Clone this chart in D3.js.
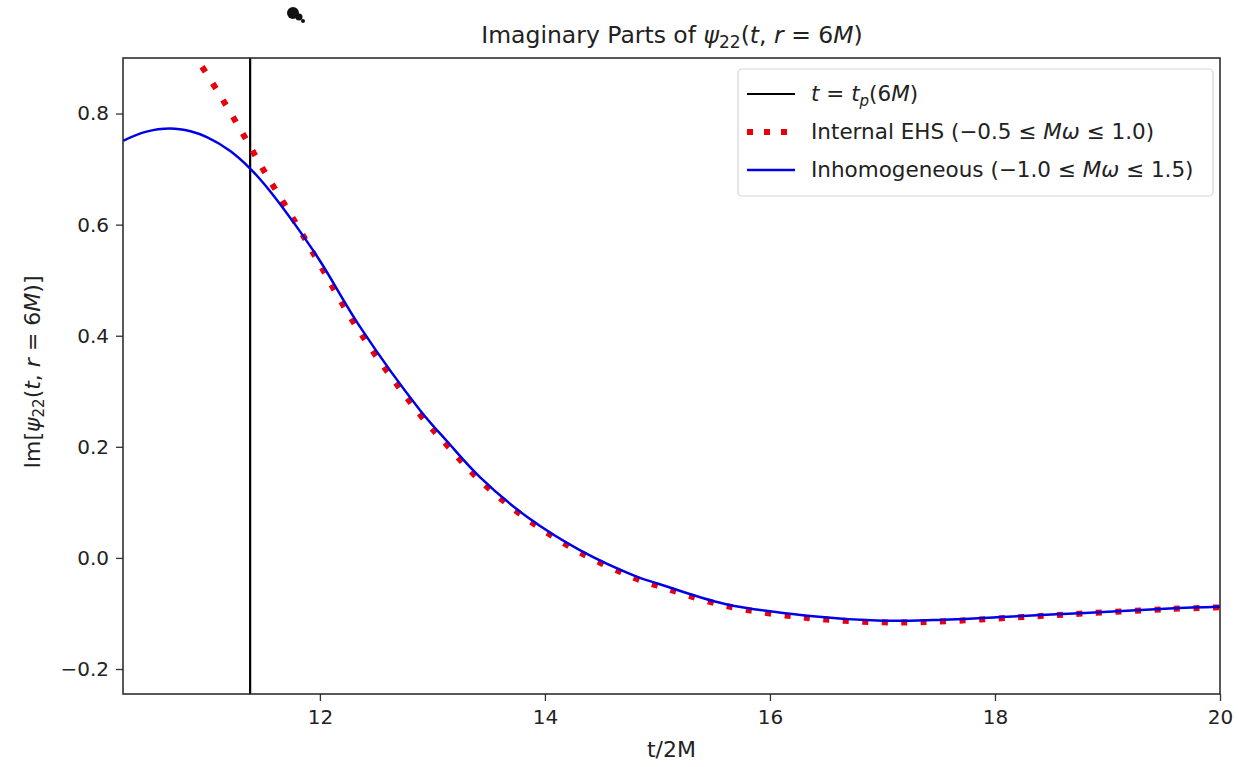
<!DOCTYPE html>
<html>
<head>
<meta charset="utf-8">
<script src="https://cdn.jsdelivr.net/npm/d3@7"></script>
<style>
  body { margin: 0; background: #fff; }
  text { font-family: "DejaVu Sans", sans-serif; fill: #222; }
</style>
</head>
<body>
<div id="chart"></div>
<script>
// reading of the curves off the reference picture
var tPeak = 11.38;

var inhomT = [10.25, 10.45, 10.67, 10.85, 11.0, 11.2, 11.38, 11.55, 11.78, 12.0, 12.36, 12.89, 13.13, 13.42, 13.84, 14.31, 14.82, 15.0, 15.6, 16.33, 17.0, 17.45, 18.2, 18.8, 19.55, 20.0];
var inhomV = [0.751, 0.767, 0.773, 0.768, 0.757, 0.733, 0.701, 0.662, 0.600, 0.535, 0.415, 0.266, 0.210, 0.146, 0.074, 0.014, -0.034, -0.046, -0.083, -0.104, -0.113, -0.112, -0.105, -0.099, -0.091, -0.088];

var ehsT = [10.85, 10.93, 11.13, 11.32, 11.50, 11.70, 11.88, 12.0, 12.36, 12.89, 13.13, 13.42, 13.84, 14.31, 14.82, 15.0, 15.6, 16.33, 17.0, 17.45, 18.2, 18.8, 19.55, 20.0];
var ehsV = [0.912, 0.891, 0.827, 0.762, 0.698, 0.632, 0.570, 0.528, 0.405, 0.258, 0.203, 0.140, 0.070, 0.010, -0.038, -0.050, -0.086, -0.108, -0.116, -0.115, -0.107, -0.100, -0.092, -0.089];

var xTicks = [12, 14, 16, 18, 20];
var yTicks = [-0.2, 0.0, 0.2, 0.4, 0.6, 0.8];

var svgWidth = 1239;
var svgHeight = 767;
var margin = { top: 58, right: 19, bottom: 73, left: 123 };
var width = svgWidth - margin.left - margin.right;
var height = svgHeight - margin.top - margin.bottom;

var svg = d3.select("#chart")
  .append("svg")
  .attr("width", svgWidth)
  .attr("height", svgHeight);

var chartGroup = svg.append("g")
  .attr("transform", `translate(${margin.left}, ${margin.top})`);

var x = d3.scaleLinear().domain([10.25, 20]).range([0, width]);
var y = d3.scaleLinear().domain([-0.245, 0.9]).range([height, 0]);

svg.append("defs").append("clipPath").attr("id", "clip")
  .append("rect").attr("width", width).attr("height", height);

// axes
var bottomAxis = d3.axisBottom(x).tickValues(xTicks).tickSize(7).tickPadding(9)
  .tickFormat(d3.format("d"));
var leftAxis = d3.axisLeft(y).tickValues(yTicks).tickSize(7).tickPadding(7)
  .tickFormat(d => d < 0 ? "\u2212" + d3.format(".1f")(-d) : d3.format(".1f")(d));

var xAxis = chartGroup.append("g")
  .attr("transform", `translate(0, ${height})`)
  .call(bottomAxis);
var yAxis = chartGroup.append("g").call(leftAxis);

[xAxis, yAxis].forEach(function(a) {
  a.select(".domain").remove();
  a.selectAll("line").attr("stroke", "#333").attr("stroke-width", 1.3);
  a.selectAll("text").style("font-size", "20px").attr("fill", "#222");
});

var lineGen = d3.line()
  .x(d => x(d[0]))
  .y(d => y(d[1]))
  .curve(d3.curveCatmullRom.alpha(0.5));

var plot = chartGroup.append("g").attr("clip-path", "url(#clip)");

// vertical line at t_p
plot.append("line")
  .attr("x1", x(tPeak)).attr("x2", x(tPeak))
  .attr("y1", 0).attr("y2", height)
  .attr("stroke", "#000").attr("stroke-width", 2.2);

// EHS dotted
plot.append("path")
  .datum(d3.zip(ehsT, ehsV))
  .attr("d", lineGen)
  .attr("fill", "none")
  .attr("stroke", "#e8000b")
  .attr("stroke-width", 6)
  .attr("stroke-dasharray", "6,13.5");

// inhomogeneous solid
plot.append("path")
  .datum(d3.zip(inhomT, inhomV))
  .attr("d", lineGen)
  .attr("fill", "none")
  .attr("stroke", "#0000e6")
  .attr("stroke-width", 2.5);

// frame
chartGroup.append("rect")
  .attr("width", width).attr("height", height)
  .attr("fill", "none").attr("stroke", "#222").attr("stroke-width", 1.5);

// title
var title = svg.append("text")
  .attr("x", 672).attr("y", 43)
  .attr("text-anchor", "middle")
  .style("font-size", "23.5px");
title.append("tspan").text("Imaginary Parts of ");
title.append("tspan").attr("font-style", "italic").text("\u03c8");
title.append("tspan").attr("dy", 5).style("font-size", "17px").text("22");
title.append("tspan").attr("dy", -5).text("(");
title.append("tspan").attr("font-style", "italic").text("t");
title.append("tspan").text(", ");
title.append("tspan").attr("font-style", "italic").text("r");
title.append("tspan").text(" = 6");
title.append("tspan").attr("font-style", "italic").text("M");
title.append("tspan").text(")");

// x label
svg.append("text")
  .attr("x", margin.left + width / 2).attr("y", 757)
  .attr("text-anchor", "middle")
  .style("font-size", "22px")
  .text("t/2M");

// y label
var ylab = svg.append("text")
  .attr("transform", `translate(40, ${margin.top + height / 2 - 4}) rotate(-90)`)
  .attr("text-anchor", "middle")
  .style("font-size", "22px");
ylab.append("tspan").text("Im[");
ylab.append("tspan").attr("font-style", "italic").text("\u03c8");
ylab.append("tspan").attr("dy", 4).style("font-size", "15px").text("22");
ylab.append("tspan").attr("dy", -4).text("(");
ylab.append("tspan").attr("font-style", "italic").text("t");
ylab.append("tspan").text(", ");
ylab.append("tspan").attr("font-style", "italic").text("r");
ylab.append("tspan").text(" = 6");
ylab.append("tspan").attr("font-style", "italic").text("M");
ylab.append("tspan").text(")]");

// legend
var legend = svg.append("g").attr("transform", "translate(738, 69)");
legend.append("rect")
  .attr("width", 475).attr("height", 127).attr("rx", 4)
  .attr("fill", "#fff").attr("stroke", "#d6d6d6").attr("stroke-width", 1.2);

var legendRows = [
  { y: 25, stroke: "#000", w: 2.2, dash: null },
  { y: 63, stroke: "#e8000b", w: 6, dash: "6,11" },
  { y: 101, stroke: "#0000e6", w: 2.5, dash: null }
];
legendRows.forEach(function(r) {
  legend.append("line")
    .attr("x1", 9).attr("x2", 57)
    .attr("y1", r.y).attr("y2", r.y)
    .attr("stroke", r.stroke).attr("stroke-width", r.w)
    .attr("stroke-dasharray", r.dash);
});

var legendFont = "21.5px";
var l1 = legend.append("text").attr("x", 73).attr("y", 32).style("font-size", legendFont);
l1.append("tspan").attr("font-style", "italic").text("t");
l1.append("tspan").text(" = ");
l1.append("tspan").attr("font-style", "italic").text("t");
l1.append("tspan").attr("font-style", "italic").attr("dy", 5).style("font-size", "15px").text("p");
l1.append("tspan").attr("dy", -5).text("(6");
l1.append("tspan").attr("font-style", "italic").text("M");
l1.append("tspan").text(")");

var l2 = legend.append("text").attr("x", 73).attr("y", 70).style("font-size", legendFont);
l2.append("tspan").text("Internal EHS (\u22120.5 \u2264 ");
l2.append("tspan").attr("font-style", "italic").text("M\u03c9");
l2.append("tspan").text(" \u2264 1.0)");

var l3 = legend.append("text").attr("x", 73).attr("y", 108).style("font-size", legendFont);
l3.append("tspan").text("Inhomogeneous (\u22121.0 \u2264 ");
l3.append("tspan").attr("font-style", "italic").text("M\u03c9");
l3.append("tspan").text(" \u2264 1.5)");

// small ink blot at the top of the page
var blot = svg.append("g").attr("fill", "#111");
blot.append("circle").attr("cx", 293).attr("cy", 13).attr("r", 6);
blot.append("circle").attr("cx", 299).attr("cy", 17).attr("r", 3.5);
blot.append("circle").attr("cx", 303).attr("cy", 21).attr("r", 2);
</script>
</body>
</html>
